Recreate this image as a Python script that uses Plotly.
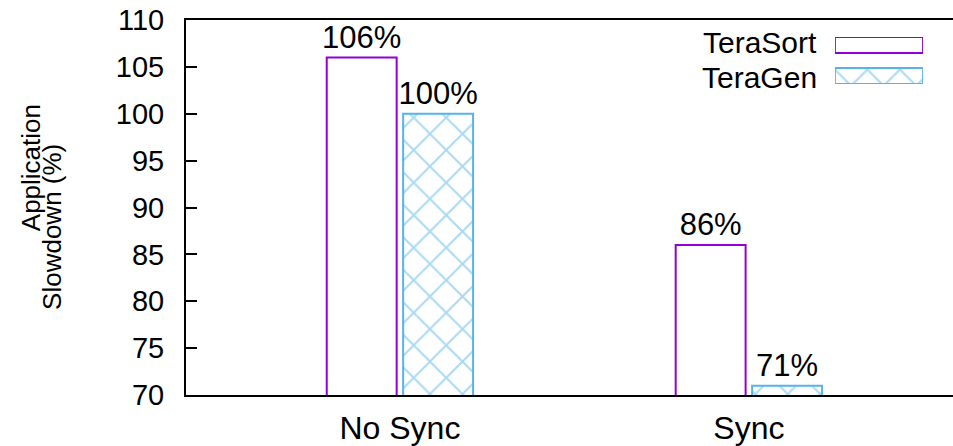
import plotly.graph_objects as go

# Data
groups = ["No Sync", "Sync"]
series_names = ["TeraSort", "TeraGen"]
terasort = [106, 86]
teragen = [100, 71]
ytitle_lines = ["Application", "Slowdown (%)"]

PURPLE = "#9400D3"
BLUE = "#56B4E9"
FONT = "Liberation Sans, Arial, Helvetica, sans-serif"

xpos = list(range(len(groups)))

fig = go.Figure()

styles = {
    "TeraSort": dict(color="white", line=dict(color=PURPLE, width=2)),
    "TeraGen": dict(color="white", line=dict(color=BLUE, width=2),
                    pattern=dict(shape="x", fgcolor=BLUE, bgcolor="white",
                                 size=23, solidity=0.17)),
}

for name, vals in zip(series_names, [terasort, teragen]):
    fig.add_trace(go.Bar(
        x=xpos, y=vals, name=name, base=0,
        marker=styles[name],
        texttemplate="%{y}%", textposition="outside",
        textfont=dict(size=31, color="black", family=FONT),
        constraintext="none", cliponaxis=False,
        showlegend=False,
    ))

# Legend keys: one horizontal swatch per series on a small inset axis,
# with the series name to its left
for i, name in enumerate(series_names):
    fig.add_trace(go.Bar(
        x=[1], y=[i], base=0, orientation="h", width=0.52,
        marker=styles[name], xaxis="x3", yaxis="y3",
        showlegend=False, hoverinfo="skip",
    ))
    fig.add_annotation(
        text=name, xref="paper", yref="y3", x=0.825, y=i,
        xanchor="right", yanchor="middle", showarrow=False,
        yshift=3 if i == 0 else -2,
        font=dict(size=30, color="black", family=FONT),
    )

# Two-line rotated y-axis title, second line offset down and right
title_pos = [(-0.202, 0.605), (-0.174, 0.447)]
for line, (tx, ty) in zip(ytitle_lines, title_pos):
    fig.add_annotation(
        text=line, xref="paper", yref="paper", x=tx, y=ty,
        textangle=-90, showarrow=False,
        xanchor="center", yanchor="middle",
        font=dict(size=26, color="black", family=FONT),
    )

fig.update_layout(
    width=953, height=446,
    margin=dict(l=186, r=0, t=20, b=51),
    paper_bgcolor="white", plot_bgcolor="white",
    barmode="group", bargap=0.562, bargroupgap=0.085,
    font=dict(family=FONT, color="black"),
    xaxis=dict(
        range=[-0.613, 1.585], tickvals=xpos, ticktext=groups,
        showgrid=False, zeroline=False, showline=True, mirror=True,
        linecolor="black", linewidth=2, ticks="",
        tickfont=dict(size=32), ticklabelstandoff=4,
    ),
    yaxis=dict(
        range=[70, 110], dtick=5, showgrid=False, zeroline=False,
        showline=True, linecolor="black", linewidth=2,
        ticks="inside", ticklen=11, tickwidth=1.5, tickcolor="black",
        tickfont=dict(size=29), ticklabelstandoff=14,
    ),
    yaxis2=dict(
        overlaying="y", side="right", range=[70, 110], dtick=5,
        showgrid=False, zeroline=False, showline=False,
        ticks="inside", ticklen=4, tickwidth=1.5, tickcolor="black",
        showticklabels=False,
    ),
    xaxis3=dict(domain=[0.846, 0.961], range=[0, 1], anchor="y3",
                visible=False, fixedrange=True),
    yaxis3=dict(domain=[0.8293, 0.9547], range=[1.26, -0.26], anchor="x3",
                visible=False, fixedrange=True),
)

fig.write_html("out.html")
